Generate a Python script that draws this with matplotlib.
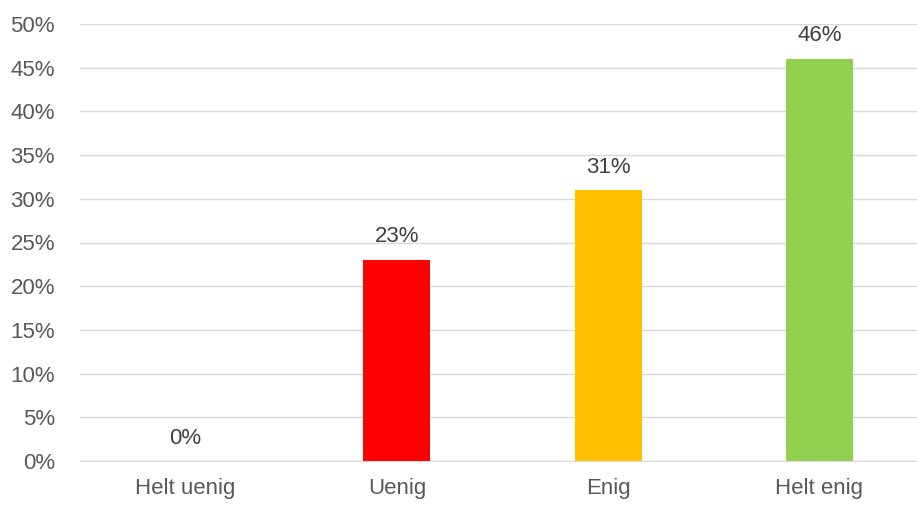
import matplotlib
matplotlib.use("Agg")
import matplotlib.pyplot as plt
from matplotlib.ticker import FuncFormatter

categories = ["Helt uenig", "Uenig", "Enig", "Helt enig"]
values = [0, 23, 31, 46]
colors = ["#FF0000", "#FF0000", "#FFC000", "#92D050"]
yticks = [0, 5, 10, 15, 20, 25, 30, 35, 40, 45, 50]

W, H = 917, 505
fig = plt.figure(figsize=(W / 100, H / 100), dpi=100)
plt.rcParams['font.family'] = ['Liberation Sans', 'DejaVu Sans']
left, right, bottom, top = 80, 917, 461, 24
ax = fig.add_axes([left / W, 1 - bottom / H, (right - left) / W, (bottom - top) / H])

x = list(range(len(categories)))
ax.bar(x, values, width=0.318, color=colors, zorder=3)
for xi, v in zip(x, values):
    ax.annotate(f"{v}%", (xi, v), xytext=(0, 9), textcoords="offset points",
                ha="center", va="bottom", fontsize=16, color="#404040")

ax.set_xlim(-0.5, 3.5 - 8 / 211)
ax.set_ylim(0, 50)
ax.set_yticks(yticks)
ax.yaxis.set_major_formatter(FuncFormatter(lambda v, p: f"{int(v)}%"))
ax.set_xticks(x)
ax.set_xticklabels(categories)
ax.tick_params(axis="both", length=0, labelsize=16, labelcolor="#595959")
ax.tick_params(axis="x", pad=12)
ax.tick_params(axis="y", pad=18)
ax.grid(axis="y", color="#D9D9D9", linewidth=1, zorder=0)
for s in ["top", "right", "left"]:
    ax.spines[s].set_visible(False)
ax.spines["bottom"].set_color("#D9D9D9")
ax.spines["bottom"].set_zorder(4)

fig.savefig("out.png", dpi=100)
